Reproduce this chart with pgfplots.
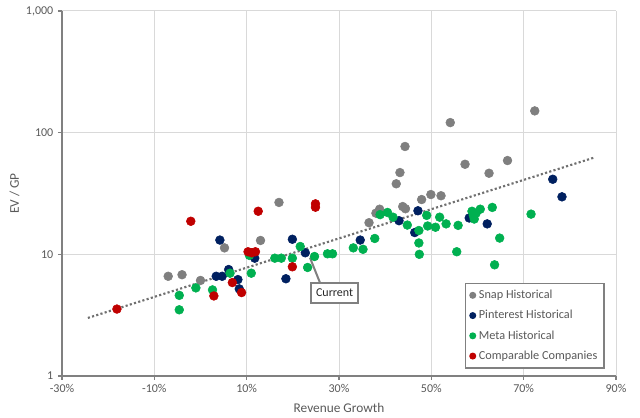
\documentclass[border=0pt]{standalone}
\usepackage{fontspec}
\setmainfont{Carlito}
\usepackage{pgfplots}
\pgfplotsset{compat=1.18}
\definecolor{snap}{HTML}{7F7F7F}
\definecolor{pin}{HTML}{002060}
\definecolor{meta}{HTML}{00B050}
\definecolor{comp}{HTML}{C00000}
\definecolor{txt}{HTML}{595959}
\definecolor{gridc}{HTML}{D9D9D9}
\definecolor{axc}{HTML}{808080}
\definecolor{trend}{HTML}{707070}
\begin{document}
\begin{tikzpicture}
\begin{axis}[
  scale only axis, width=415.5pt, height=273.75pt,
  at={(0,0)}, anchor=south west,
  xmin=-30, xmax=90, ymode=log, ymin=1, ymax=1000,
  xtick={-30,-10,10,30,50,70,90},
  xticklabels={-30\%,-10\%,10\%,30\%,50\%,70\%,90\%},
  ytick={1,10,100,1000}, yticklabels={1,10,100,{1,000}},
  yminorticks=false,
  axis x line*=bottom, axis y line*=left,
  axis line style={axc, line width=1pt, -},
  tick align=outside, major tick length=3pt,
  tick style={axc, line width=1pt},
  grid=major, major grid style={gridc, line width=0.75pt},
  ticklabel style={font=\fontsize{9}{11}\selectfont, text=txt},
  xlabel={Revenue Growth}, ylabel={EV / GP},
  label style={font=\fontsize{10}{12}\selectfont, text=txt},
  xlabel style={at={(axis description cs:0.5,0)}, anchor=center, yshift=-24pt},
  ylabel style={at={(axis description cs:-0.0857,0.5)}, anchor=center},
  legend style={at={(1,0)}, anchor=south east, xshift=-8.5pt, yshift=5.5pt,
    draw=axc, line width=1pt, font=\fontsize{9.2}{11}\selectfont, text=txt,
    cells={anchor=west}, row sep=3.3pt, inner xsep=3pt, inner ysep=3pt},
  legend image code/.code={\fill (0pt,0pt) circle (2.1pt);},
  clip=false,
]
\addplot[only marks, mark=*, color=snap, mark size=3.3pt] coordinates {
(-7.0,6.6) (-4.0,6.8) (0.0,6.1) (5.2,11.3) (13.0,13.0) (17.0,26.7)
(36.5,18.2) (38.0,21.8) (38.8,23.5) (42.4,38) (43.2,47) (44.3,77)
(43.8,24.7) (44.4,23.7) (47.9,28.2) (49.9,31) (52.1,30.3) (54.1,121)
(57.3,55) (62.5,46.4) (66.5,59) (72.4,151)
};
\addlegendentry{Snap Historical}
\addplot[only marks, mark=*, color=pin, mark size=3.3pt] coordinates {
(4.2,13.1) (3.4,6.6) (4.7,6.6) (6.1,7.5) (8.1,6.2) (8.4,5.2) (11.75,9.3)
(18.5,6.3) (19.9,13.3) (22.7,10.3) (34.6,13.1) (43.0,18.9) (46.4,15.1)
(47.1,22.8) (58.2,19.9) (62.1,17.8) (76.3,41.4) (78.3,29.7)
};
\addlegendentry{Pinterest Historical}
\addplot[only marks, mark=*, color=meta, mark size=3.3pt] coordinates {
(-4.6,4.6) (-4.6,3.5) (-1.0,5.3) (2.6,5.1) (6.4,7.0) (10.6,9.8) (11.0,7.0)
(16.1,9.3) (17.5,9.3) (19.9,9.3) (21.6,11.6) (23.2,7.8) (24.7,9.6)
(27.5,10.1) (28.6,10.1) (33.1,11.3) (35.2,11.0) (37.75,13.5) (38.9,21.2)
(40.5,22.1) (41.7,20.2) (44.8,17.4) (47.3,15.7) (47.3,12.4) (47.4,10.0)
(49.0,20.9) (49.2,17.1) (50.9,16.7) (51.8,20.2) (53.2,17.8) (55.5,10.5)
(55.8,17.3) (58.8,22.6) (59.1,20.8) (59.3,19.5) (59.7,21.8) (60.6,23.5)
(63.2,24.3) (63.7,8.2) (64.8,13.6) (71.6,21.4)
};
\addlegendentry{Meta Historical}
\addplot[only marks, mark=*, color=comp, mark size=3.3pt] coordinates {
(-18.1,3.55) (-2.1,18.7) (2.9,4.55) (6.9,5.86) (8.9,4.85) (10.3,10.5)
(11.1,10.3) (11.9,10.5) (12.5,22.6) (19.9,7.9) (24.9,26) (24.9,24.4)
};
\addlegendentry{Comparable Companies}
\addplot[trend, line width=1.6pt, dash pattern=on 1.6pt off 1.7pt, forget plot] coordinates {
(-24.4,3.0) (85.1,62.1)
};
\draw[axc, line width=1.5pt] (axis cs:23.7,9.4) -- (axis cs:25.9,5.82);
\node[draw=axc, line width=1.2pt, fill=white, text={black!85},
  font=\fontsize{9}{11}\selectfont, minimum width=35pt, minimum height=15pt,
  inner sep=1pt] at (axis cs:29.05,4.82) {Current};
\end{axis}
\pgfresetboundingbox
\path (-46.5pt,-31.5pt) rectangle (433.5pt,282pt);
\end{tikzpicture}
\end{document}
